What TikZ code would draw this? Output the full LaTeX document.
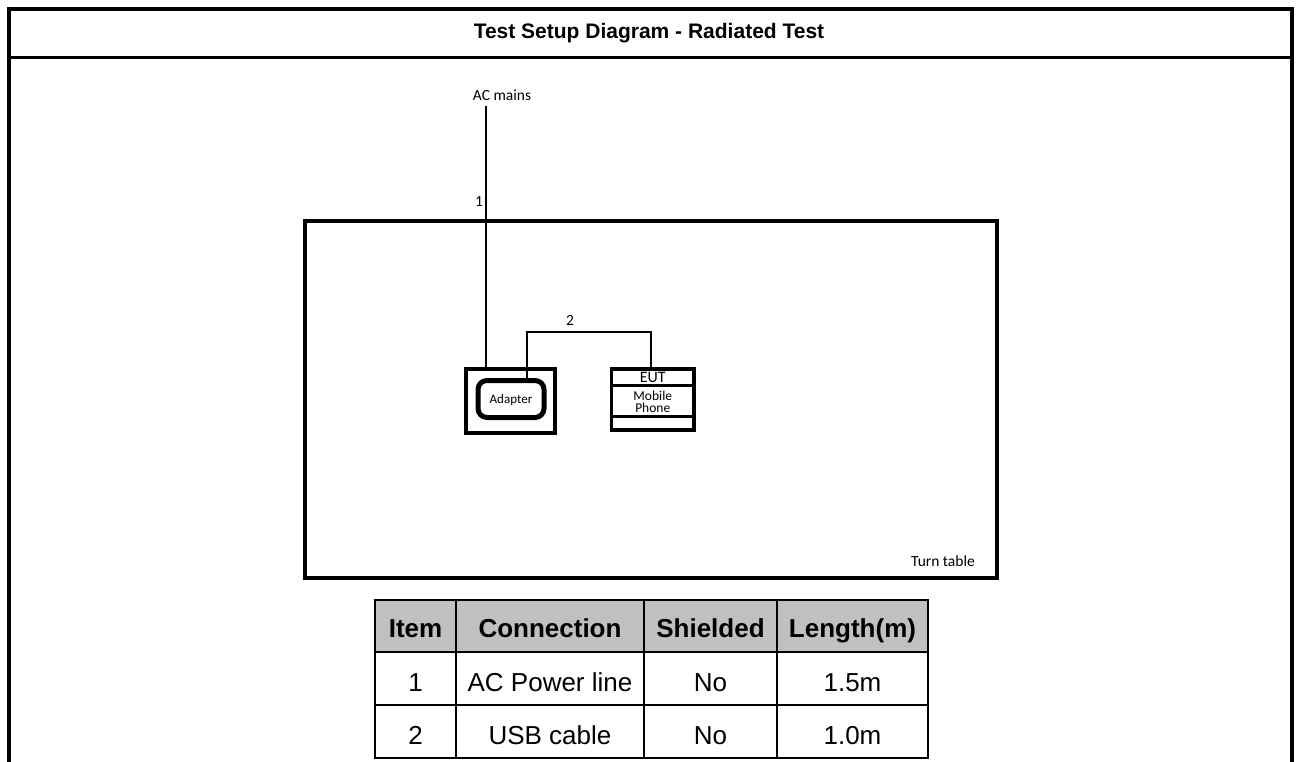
\documentclass[tikz,border=0pt]{standalone}
\usepackage{fontspec}
\setmainfont{Liberation Sans}
\newfontfamily\calfont{Carlito}
\definecolor{hdrgray}{HTML}{C0C0C0}
\begin{document}
\begin{tikzpicture}[x=1pt,y=-1pt,
  frameline/.style={line width=4pt},
  sepline/.style={line width=3pt},
  wire/.style={line width=2.2pt},
  lbl/.style={font=\calfont\fontsize{15.5}{18}\selectfont, inner sep=0pt, anchor=base},
  smalllbl/.style={font=\calfont\fontsize{13.5}{14}\selectfont, inner sep=0pt, anchor=base},
  titletext/.style={font=\bfseries\fontsize{21}{25}\selectfont, inner sep=0pt, anchor=base},
  hdrcell/.style={font=\bfseries\fontsize{26}{30}\selectfont, inner sep=0pt, anchor=base},
  bodycell/.style={font=\fontsize{26}{30}\selectfont, inner sep=0pt, anchor=base},
  gridline/.style={line width=2pt},
  box/.style={draw, inner sep=0pt, outer sep=0pt}
]
\useasboundingbox (0,0) rectangle (1296,762);
% outer frame
\coordinate (fTL) at (9,9);
\coordinate (fTR) at (1292,9);
\coordinate (fBL) at (9,762);
\coordinate (fBR) at (1292,762);
\coordinate (sL) at (9,58);
\coordinate (sR) at (1292,58);
\draw[frameline] (fBL) -- (fTL) -- (fTR) -- (fBR);
\draw[sepline] (sL) -- (sR);
\node[titletext] (title) at (649,38.5) {Test Setup Diagram - Radiated Test};

% turn table
\node[box, line width=4pt, minimum width=692pt, minimum height=357pt] (tt) at (651,399.5) {};
\node[lbl] (ttl) at (943,566.7) {Turn table};

% adapter
\node[box, line width=4pt, minimum width=89pt, minimum height=64pt] (ado) at (510,401) {};
\node[box, line width=5pt, rounded corners=9pt, minimum width=66pt, minimum height=37pt] (adi) at (511,399) {};
\node[font=\calfont\fontsize{13}{14}\selectfont, inner sep=0pt, anchor=base] (adl) at (511,403.5) {Adapter};

% EUT
\node[box, line width=3.5pt, minimum width=82.5pt, minimum height=61pt] (eut) at (652.75,399.5) {};
\coordinate (d1L) at (611.5,385.5);
\coordinate (d1R) at (694,385.5);
\coordinate (d2L) at (611.5,416);
\coordinate (d2R) at (694,416);
\draw[line width=3pt] (d1L) -- (d1R);
\draw[line width=3pt] (d2L) -- (d2R);
\node[font=\calfont\fontsize{16}{18}\selectfont, inner sep=0pt, anchor=base] (eutl) at (652.75,382.7) {EUT};
\node[smalllbl] (mob) at (652.75,400) {Mobile};
\node[smalllbl] (pho) at (652.75,412) {Phone};

% AC mains
\node[lbl] (acl) at (502,100.5) {AC mains};
\coordinate (acTop) at (486,106);
\draw[wire] (acTop) -- (acTop |- ado.north);
\node[lbl] (one) at (479,207) {1};

% USB cable
\coordinate (usbA) at (527,380);
\coordinate (usbB) at (651,367.5);
\coordinate (usbC) at (527,332);
\draw[wire] (usbA) -- (usbC) -| (usbB);
\node[lbl] (two) at (570,325.7) {2};

% table
\fill[hdrgray] (375,600) rectangle (928,652);
\coordinate (tTL) at (375,600);
\coordinate (tBR) at (928,758);
\draw[gridline] (tTL) rectangle (tBR);
\foreach \yy in {652,705}{\draw[gridline] (375,\yy) -- (928,\yy);}
\foreach \xx in {456,644,777}{\draw[gridline] (\xx,600) -- (\xx,758);}
\node[hdrcell] (h1) at (415.5,637) {Item};
\node[hdrcell] (h2) at (550,637) {Connection};
\node[hdrcell] (h3) at (710.5,637) {Shielded};
\node[hdrcell] (h4) at (852.5,637) {Length(m)};
\node[bodycell] (r1a) at (415.5,691) {1};
\node[bodycell] (r1b) at (550,691) {AC Power line};
\node[bodycell] (r1c) at (710.5,691) {No};
\node[bodycell] (r1d) at (852.5,691) {1.5m};
\node[bodycell] (r2a) at (415.5,744.5) {2};
\node[bodycell] (r2b) at (550,744.5) {USB cable};
\node[bodycell] (r2c) at (710.5,744.5) {No};
\node[bodycell] (r2d) at (852.5,744.5) {1.0m};
\end{tikzpicture}
\end{document}
